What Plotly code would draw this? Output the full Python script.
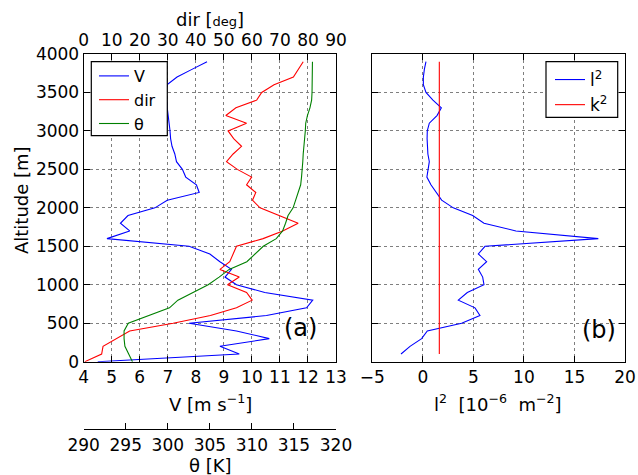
import plotly.graph_objects as go

alt = list(range(0, 4000, 100))
V = [4.5, 9.55, 8.86, 10.62, 9.45, 7.76, 10.52, 11.95, 12.17, 10.46,
     9.45, 9.04, 9.27, 8.86, 8.50, 7.76, 4.83, 5.64, 5.31, 5.58,
     6.54, 6.98, 8.12, 8.02, 7.64, 7.52, 7.31, 7.25, 7.15, 7.10,
     7.08, 7.04, 7.00, 6.98, 6.96, 6.95, 6.97, 7.33, 7.86, 8.40]
wdir = [0.4, 6.4, 6.9, 11.9, 16.4, 31.9, 45.2, 54.5, 60.1, 58.1,
        51.3, 55.5, 48.6, 52.1, 53.3, 54.5, 64.0, 71.0, 76.5, 69.8,
        62.9, 60.2, 61.4, 58.1, 59.9, 54.8, 50.95, 53.3, 56.3, 53.5,
        51.5, 58.1, 50.7, 54.3, 61.7, 63.5, 67.9, 74.8, 76.5, 78.3]
theta = [295.8, 295.3, 294.9, 294.8, 294.8, 295.3, 297.7, 300.2, 301.2, 303.0,
         304.8, 306.1, 307.3, 309.4, 310.4, 311.35, 312.9, 313.65, 314.0, 314.3,
         314.9, 315.2, 315.5, 315.8, 315.9, 316.0, 316.05, 316.1, 316.2, 316.3,
         316.35, 316.4, 316.6, 316.9, 317.1, 317.15, 317.15, 317.2, 317.2, 317.2]

alt_b = list(range(100, 4000, 100))
l2 = [-2.16, -1.27, -0.12, 0.44, 3.84, 5.65, 5.16, 3.51, 4.4,
      6.05, 5.92, 5.49, 6.31, 5.49, 6.15, 17.36, 9.21, 6.05, 4.93,
      3.01, 1.86, 1.3, 0.8, 0.4, 0.5, 0.64, 0.5, 0.44, 0.42,
      0.44, 0.64, 1.4, 1.83, 1.0, 0.31, 0.05, 0.05, 0.15, 0.31]
k2 = [1.63] * len(alt_b)

FONT = "DejaVu Sans"
TF = 17
LW = 1.1

fig = go.Figure()
fig.add_trace(go.Scatter(x=V, y=alt, mode="lines", name="V",
                         line=dict(color="#0000ff", width=LW),
                         xaxis="x", yaxis="y", legend="legend"))
fig.add_trace(go.Scatter(x=wdir, y=alt, mode="lines", name="dir",
                         line=dict(color="#ff0000", width=LW),
                         xaxis="x2", yaxis="y", legend="legend"))
fig.add_trace(go.Scatter(x=theta, y=alt, mode="lines", name="θ",
                         line=dict(color="#008000", width=LW),
                         xaxis="x3", yaxis="y", legend="legend"))
fig.add_trace(go.Scatter(x=l2, y=alt_b, mode="lines", name="l<sup>2</sup>",
                         line=dict(color="#0000ff", width=LW),
                         xaxis="x4", yaxis="y2", legend="legend2"))
fig.add_trace(go.Scatter(x=k2, y=alt_b, mode="lines", name="k<sup>2</sup>",
                         line=dict(color="#ff0000", width=LW),
                         xaxis="x4", yaxis="y2", legend="legend2"))

W, H = 638, 475
dL = [83.7 / W, 336 / W]
dR = [372.3 / W, 625 / W]
dY = [1 - 361.7 / H, 1 - 54 / H]

common = dict(showline=True, linecolor="black", linewidth=1.2,
              ticks="inside", ticklen=6, tickcolor="black", tickwidth=1,
              tickfont=dict(family=FONT, size=TF, color="black"),
              zeroline=False, automargin=False)
grid = dict(showgrid=True, gridcolor="#7f7f7f", gridwidth=1, griddash="dot")

fig.update_layout(
    width=W, height=H,
    margin=dict(l=0, r=0, t=0, b=0, autoexpand=False),
    paper_bgcolor="white", plot_bgcolor="white",
    font=dict(family=FONT, size=TF, color="black"),
    showlegend=True,
    xaxis=dict(domain=dL, range=[4, 13], dtick=1, anchor="y", side="bottom",
               mirror=True, **common, **grid),
    xaxis2=dict(range=[0, 90], dtick=10, overlaying="x", anchor="y", side="top",
                showgrid=False, **common),
    xaxis3=dict(range=[290, 320], dtick=5, overlaying="x", anchor="free",
                position=1 - 429 / H, side="bottom", showgrid=False, **common),
    yaxis=dict(domain=dY, range=[0, 4000], dtick=500, anchor="x",
               mirror="ticks", **common, **grid),
    xaxis4=dict(domain=dR, range=[-5, 20], dtick=5, anchor="y2", side="bottom",
                mirror="ticks", **common, **grid),
    yaxis2=dict(domain=dY, range=[0, 4000], dtick=500, anchor="x4",
                mirror="ticks", showticklabels=False, **common, **grid),
    legend=dict(x=94 / W, y=1 - 59 / H, xanchor="left", yanchor="top",
                bgcolor="rgba(0,0,0,0)", borderwidth=0,
                font=dict(family=FONT, size=16), itemwidth=30,
                tracegroupgap=0),
    legend2=dict(x=550 / W, y=1 - 62 / H, xanchor="left", yanchor="top",
                 bgcolor="rgba(0,0,0,0)", borderwidth=0,
                 font=dict(family=FONT, size=17), itemwidth=30),
)

# legend frames (white, covering the curves as in the reference)
for (x0, x1, y0, y1) in [(91.3, 167.3, 61.7, 135.7), (546, 617.7, 61.7, 117.3)]:
    fig.add_shape(type="rect", xref="paper", yref="paper", layer="above",
                  x0=x0 / W, x1=x1 / W, y0=1 - y1 / H, y1=1 - y0 / H,
                  fillcolor="white", line=dict(color="black", width=1.2))

ann = [
    dict(text="dir [<span style='font-size:13px'>deg</span>]", x=210 / W, y=1 - 19 / H),
    dict(text="V [m s<sup>−1</sup>]", x=210 / W, y=1 - 403 / H),
    dict(text="θ [K]", x=210 / W, y=1 - 465 / H),
    dict(text="l<sup>2</sup>\u00a0\u00a0[10<sup>−6</sup>\u00a0\u00a0m<sup>−2</sup>]", x=498 / W, y=1 - 403 / H),
    dict(text="Altitude [m]", x=21 / W, y=1 - 200 / H, textangle=-90),
    dict(text="(a)", x=300 / W, y=1 - 328 / H, size=24),
    dict(text="(b)", x=599 / W, y=1 - 330 / H, size=24),
]
for a in ann:
    size = a.pop("size", 18)
    fig.add_annotation(xref="paper", yref="paper", showarrow=False,
                       xanchor="center", yanchor="middle",
                       font=dict(family=FONT, size=size, color="black"), **a)

fig.write_html("out.html", config={"displayModeBar": False},
               post_script="document.body.style.margin='0';")
